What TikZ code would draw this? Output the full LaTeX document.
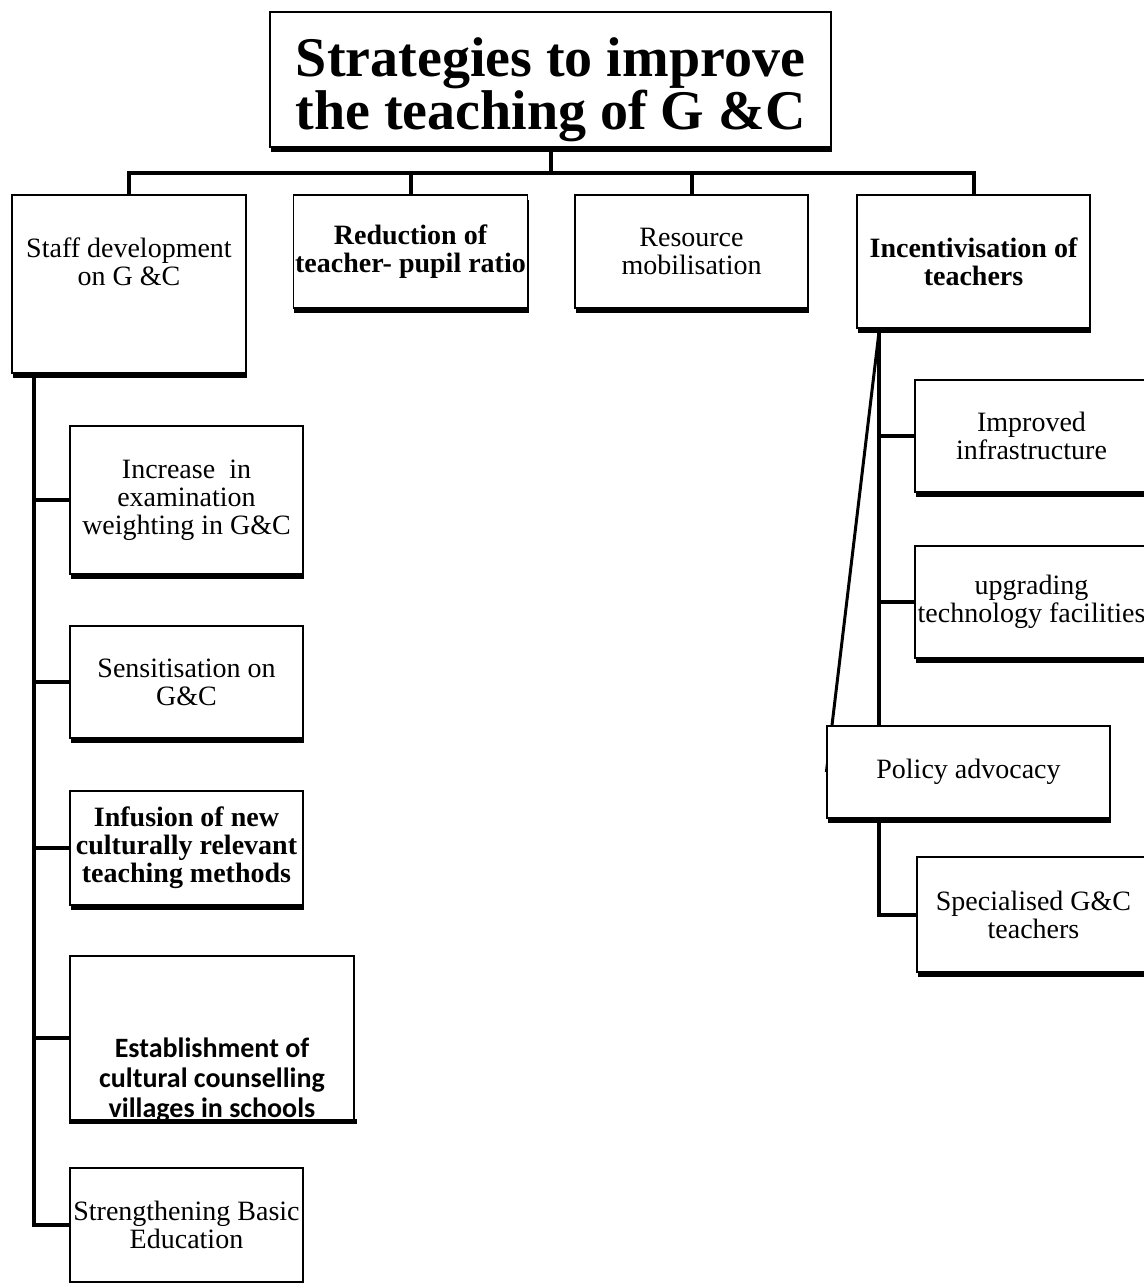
\documentclass[tikz,border=0pt]{standalone}
\usepackage{fontspec}
\setmainfont{Liberation Serif}
\newfontfamily\calibrifont{Carlito}
\usetikzlibrary{shadows, backgrounds}

\tikzset{
    box/.style={draw, line width=0.6pt, fill=white, align=center, inner sep=1pt,
        font=\fontsize{14}{14}\selectfont},
    shbox/.style={box, general shadow={fill=black, shadow xshift=0.6pt, shadow yshift=-2.5pt}},
    link/.style={line width=2pt},
}

\begin{document}
\begin{tikzpicture}[x=0.5pt, y=-0.5pt]
    \useasboundingbox (0,0) rectangle (1144,1284);
    % Root
    \node[shbox, minimum width=280.5pt, minimum height=67.5pt,
        font=\fontsize{28}{26.5}\selectfont\bfseries] (title) at (550.5,79.5)
        {\rule{0pt}{24pt}Strategies to improve\\\raisebox{0pt}[\height][0pt]{the teaching of G \&C}};
    % First level
    \node[shbox, minimum width=117pt, minimum height=89pt](staff)    at (129,284)
        {Staff development\\on G \&C\\[8pt]\mbox{}};
    \node[shbox, minimum width=116.5pt, minimum height=56.5pt, font=\fontsize{14}{14}\selectfont\bfseries](ratio) at (410.5,251.5)
        {Reduction of\\teacher- pupil ratio};
    \node[shbox, minimum width=116.5pt, minimum height=56.5pt](resource) at (691.5,251.5)
        {Resource\\mobilisation};
    \node[shbox, minimum width=116.5pt, minimum height=66.5pt, font=\fontsize{14}{14}\selectfont\bfseries](incent) at (973.5,261.5)
        {Incentivisation of\\teachers};
    % Staff development branch
    \node[shbox, minimum width=116.5pt, minimum height=74pt](exam)   at (186.5,500)
        {Increase~ in\\examination\\weighting in G\&C};
    \node[shbox, minimum width=116.5pt, minimum height=56pt](sensit) at (186.5,682)
        {Sensitisation on\\G\&C};
    \node[shbox, minimum width=116.5pt, minimum height=57pt, font=\fontsize{14}{14}\selectfont\bfseries](infusion) at (186.5,848)
        {Infusion of new\\culturally relevant\\teaching methods};
    \node[box, minimum width=142pt, minimum height=82pt, font=\fontsize{14}{15}\selectfont\calibrifont\bfseries](village) at (212,1038)
        {\mbox{}\\[34pt]Establishment of\\cultural counselling\\\smash{villages in schools}};
    \node[box, minimum width=116.5pt, minimum height=57pt](basic)    at (186.5,1225)
        {Strengthening Basic\\Education};
    % Incentivisation branch
    \node[shbox, minimum width=116.5pt, minimum height=56pt](infra)  at (1031.5,436)
        {Improved\\infrastructure};
    \node[shbox, minimum width=116.5pt, minimum height=56pt](techno) at (1031.5,602)
        {upgrading\\technology facilities};
    \node[shbox, minimum width=141.5pt, minimum height=46pt](policy) at (968.5,772)
        {Policy advocacy};
    \node[shbox, minimum width=116.5pt, minimum height=57.5pt](special) at (1033.5,914.5)
        {Specialised G\&C\\teachers};
    \draw[line width=2.5pt] ([yshift=-0.5pt]village.south west) -- ([xshift=1pt,yshift=-0.5pt]village.south east);
    % Connectors
    \begin{pgfonlayer}{background}
        \draw[link] (title.south) -- ++(0,25) coordinate (bar);
        \draw[link] (staff.north) |- (bar) -| (incent.north);
        \draw[link] (ratio.north) -- (ratio.north |- bar);
        \draw[link] (resource.north) -- (resource.north |- bar);
        \coordinate (lspine) at ([xshift=11.5pt]staff.south west);
        \draw[link] (lspine) |- (basic.west);
        \foreach \b in {exam,sensit,infusion,village}
            \draw[link] (\b.west -| lspine) -- (\b.west);
        \coordinate (rspine) at ([xshift=11.5pt]incent.south west);
        \draw[link] (rspine) |- (special.west);
        \foreach \b in {infra,techno}
            \draw[link] (\b.west -| rspine) -- (\b.west);
        \draw[line width=1.5pt] (rspine) -- (policy.west);
    \end{pgfonlayer}
\end{tikzpicture}
\end{document}
